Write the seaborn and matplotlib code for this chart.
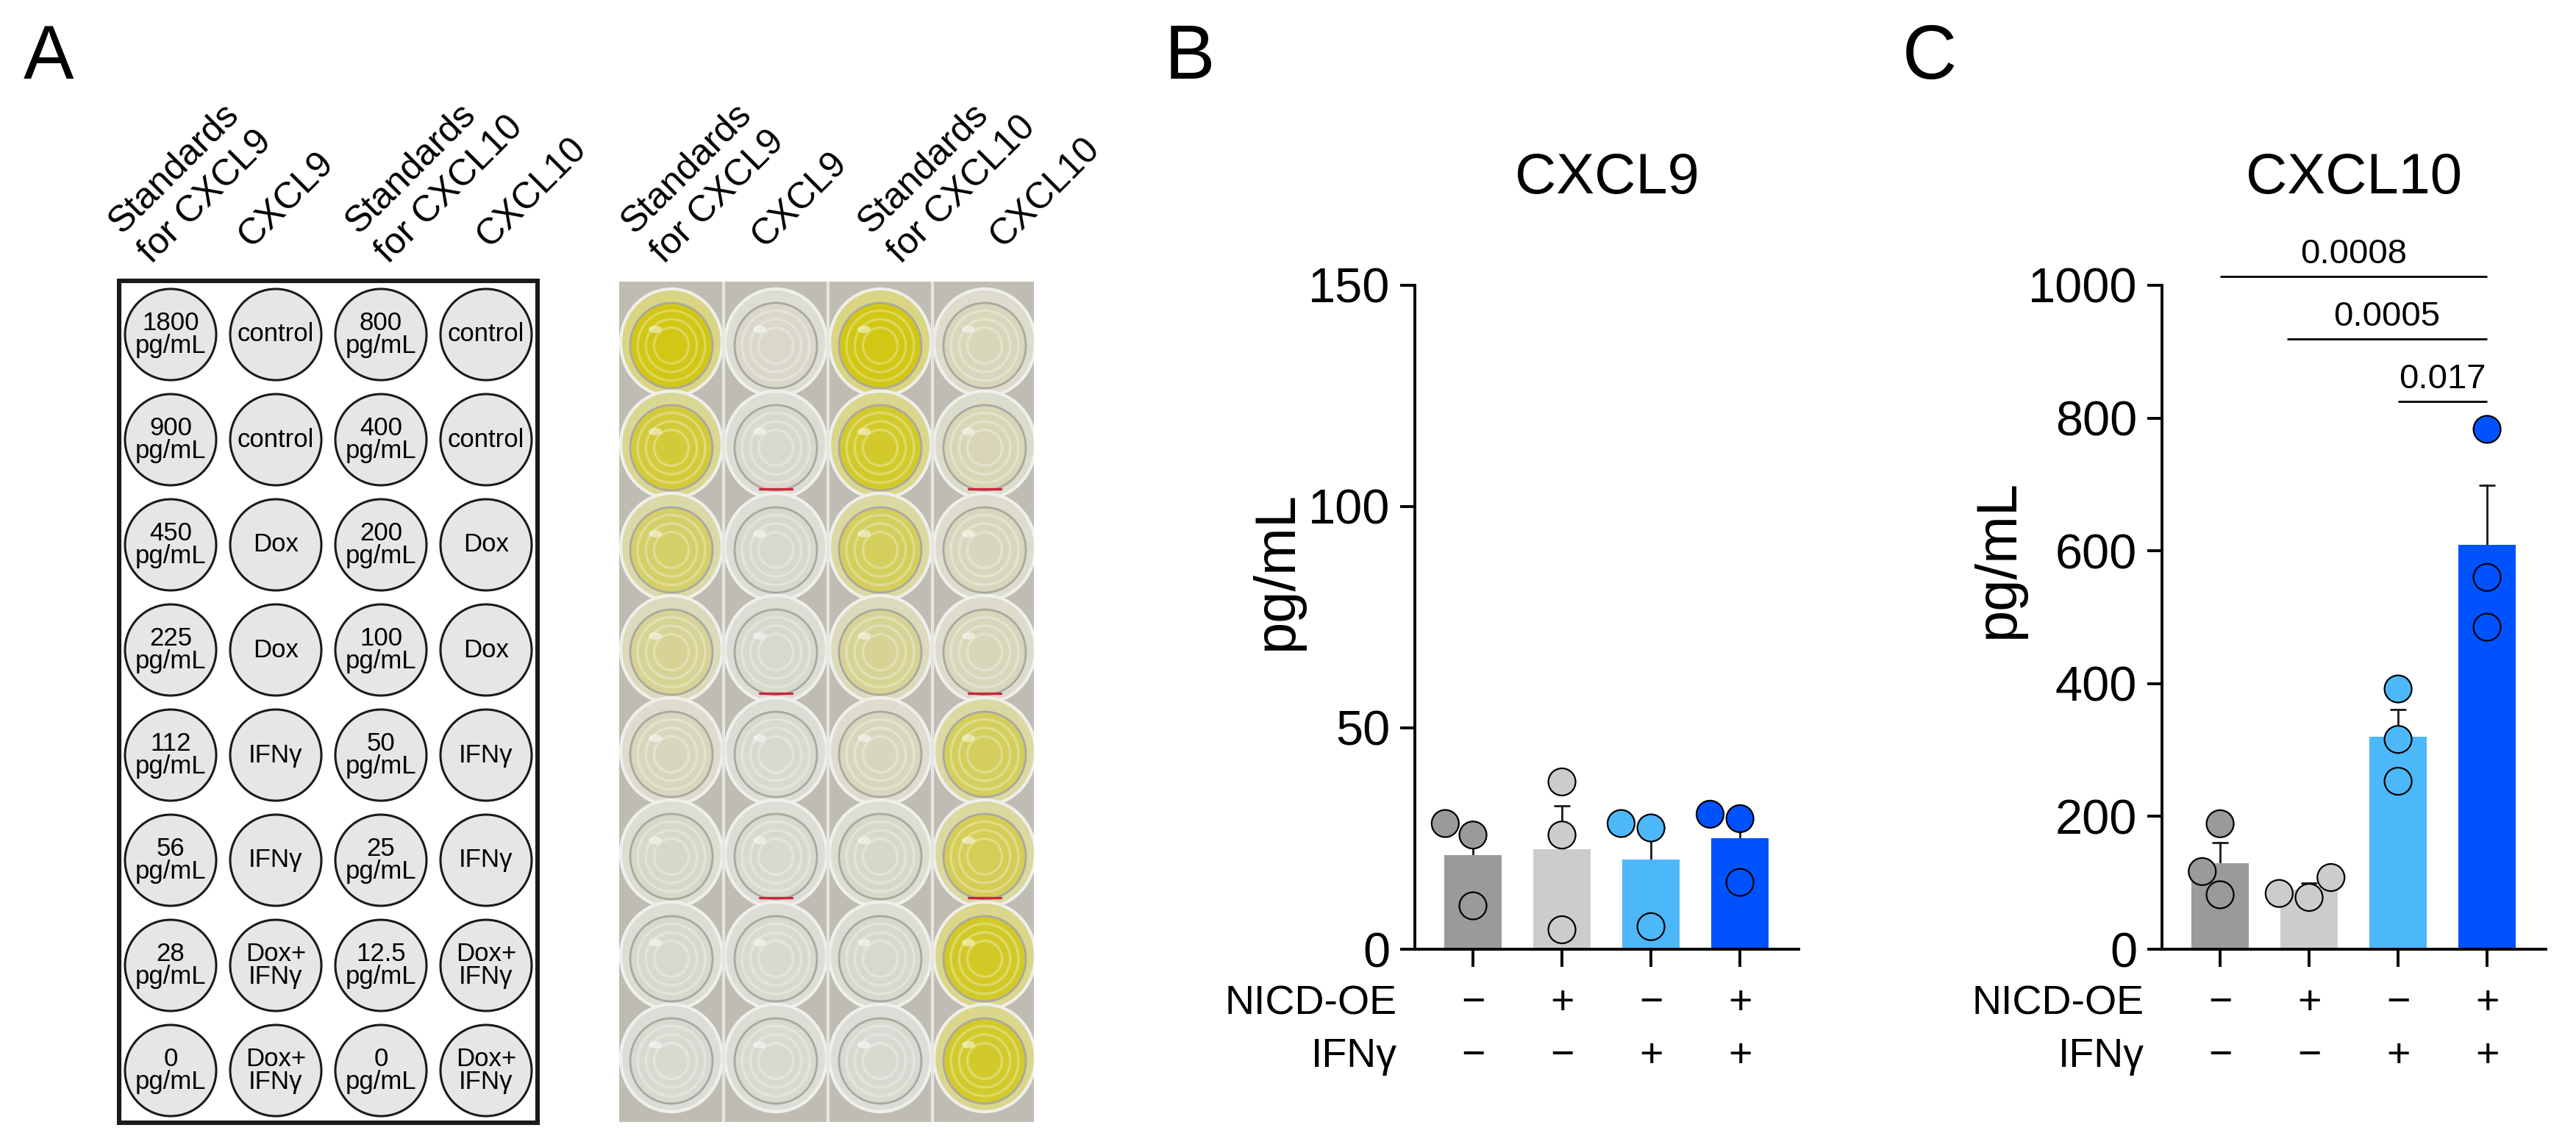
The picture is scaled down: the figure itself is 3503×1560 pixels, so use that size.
import numpy as np
import pandas as pd
import seaborn as sns
import matplotlib.pyplot as plt
from matplotlib.patches import Circle, Ellipse, Rectangle

W, H, DPI = 3503, 1560, 200

# ---- values ----
group_names = ["ctrl", "NICD", "IFNg", "NICD+IFNg"]
nicd_oe_signs = ["\u2212", "+", "\u2212", "+"]
ifng_signs = ["\u2212", "\u2212", "+", "+"]
bar_colors = ["#9a9a9a", "#cccccc", "#4cb8fa", "#0052ff"]

cxcl9_pg_ml = [[28.4, 25.8, 9.8], [37.8, 25.8, 4.4], [28.4, 27.4, 5.1], [30.5, 29.5, 15.1]]
cxcl10_pg_ml = [[189, 117, 82], [108, 78, 84], [392, 316, 253], [783, 560, 485]]
cxcl10_p_values = ["0.0008", "0.0005", "0.017"]
cxcl10_p_spans = [(0, 3), (0.75, 3), (2, 3)]

plate_headers = ["Standards\nfor CXCL9", "CXCL9", "Standards\nfor CXCL10", "CXCL10"]
std_cxcl9 = ["1800", "900", "450", "225", "112", "56", "28", "0"]
std_cxcl10 = ["800", "400", "200", "100", "50", "25", "12.5", "0"]
sample_wells = ["control", "control", "Dox", "Dox", "IFN\u03b3", "IFN\u03b3", "Dox+\nIFN\u03b3", "Dox+\nIFN\u03b3"]

# how yellow each well looks in the photo (0 clear, 1 strongest)
yellow_std9 = [1.0, 0.8, 0.55, 0.32, 0.1, 0.05, 0.02, 0.0]
yellow_cxcl9 = [0.03, 0.02, 0.02, 0.02, 0.01, 0.01, 0.01, 0.01]
yellow_std10 = [1.0, 0.88, 0.62, 0.32, 0.1, 0.05, 0.02, 0.0]
yellow_cxcl10 = [0.12, 0.14, 0.1, 0.12, 0.62, 0.65, 0.9, 0.88]

sns.set_theme(style="ticks", rc={"axes.edgecolor": "black", "xtick.color": "black",
                                 "ytick.color": "black", "text.color": "black",
                                 "axes.labelcolor": "black"})
plt.rcParams["font.family"] = ["Liberation Sans", "DejaVu Sans"]


def px_axes(fig, x0, y0, x1, y1):
    return fig.add_axes([x0 / W, 1 - y1 / H, (x1 - x0) / W, (y1 - y0) / H])


def fig_text(fig, x, y, s, **kw):
    return fig.text(x / W, 1 - y / H, s, **kw)


def draw_schematic(fig):
    ax = px_axes(fig, 162, 382, 731, 1527)
    ax.set_xlim(162, 731)
    ax.set_ylim(1527, 382)
    ax.axis("off")
    ax.add_patch(Rectangle((162, 382), 569, 1145, fill=False, lw=2.2, ec="#1a1a1a", clip_on=False))
    columns = [[f"{v}\npg/mL" for v in std_cxcl9], sample_wells,
               [f"{v}\npg/mL" for v in std_cxcl10], sample_wells]
    for j, col in enumerate(columns):
        for i, label in enumerate(col):
            cx, cy = 232 + 143 * j, 455 + 143 * i
            ax.add_patch(Circle((cx, cy), 62, fc="#e6e6e8", ec="#1a1a1a", lw=1.1))
            ax.text(cx, cy, label, ha="center", va="center", fontsize=12.5, linespacing=0.95)


def draw_plate_photo(fig):
    ax = px_axes(fig, 842, 383, 1406, 1526)
    ax.set_xlim(842, 1406)
    ax.set_ylim(1526, 383)
    ax.axis("off")
    ax.add_patch(Rectangle((842, 383), 564, 1143, fc="#bfbdb3", ec="none"))
    clear = np.array([0.85, 0.85, 0.82])
    yellow = np.array([0.82, 0.78, 0.08])
    rim_light = np.array([0.88, 0.88, 0.86])
    for xb in (984, 1126, 1268):
        ax.plot([xb, xb], [383, 1526], color="#e6e5e0", lw=1.5)
    for j, col in enumerate([yellow_std9, yellow_cxcl9, yellow_std10, yellow_cxcl10]):
        cx = 913 + 142 * j
        for i, t in enumerate(col):
            cy = 466 + 139 * i
            liquid = clear * (1 - t) + yellow * t
            rim = liquid * 0.45 + rim_light * 0.55
            ax.add_patch(Ellipse((cx, cy), 138, 146, fc=rim, ec="#efefeb", lw=1.5))
            ax.add_patch(Ellipse((cx, cy + 4), 112, 116, fc=liquid, ec="#a9a8a0", lw=1.0))
            for k in (0.82, 0.62, 0.42):
                ax.add_patch(Ellipse((cx, cy + 4), 112 * k, 116 * k, fc="none", ec="white",
                                     alpha=0.3, lw=1.2))
            ax.add_patch(Ellipse((cx - 22, cy - 18), 18, 10, fc="white", alpha=0.5, ec="none"))
            if j in (1, 3) and i in (1, 3, 5):
                ax.plot([cx - 22, cx + 22], [cy + 60, cy + 60], color="#c8283c", lw=1.2)


def draw_bar_panel(fig, x0, values, ymax, ystep, title, label_xy):
    ax = px_axes(fig, x0, 388, x0 + 522, 1291)
    df = pd.DataFrame({"group": np.repeat(group_names, [len(v) for v in values]),
                       "pg_ml": np.concatenate(values)})
    sns.barplot(data=df, x="group", y="pg_ml", hue="group", order=group_names,
                hue_order=group_names, palette=bar_colors, saturation=1, width=0.65,
                errorbar="se", capsize=0.17, linewidth=0,
                err_kws={"linewidth": 1.0, "color": "#1a1a1a"},
                legend=False, zorder=2, ax=ax)
    # error bars sit behind the bars so only the upper half shows
    for ln in ax.lines:
        ln.set_zorder(1.5)
    sns.swarmplot(data=df, x="group", y="pg_ml", hue="group", order=group_names,
                  hue_order=group_names, palette=bar_colors, size=13.3,
                  edgecolor="black", linewidth=0.8, legend=False, zorder=3, ax=ax)
    ax.set_xlim(-0.653, 3.66)
    ax.set_ylim(0, ymax)
    ax.set_yticks(np.arange(0, ymax + 1, ystep))
    ax.set_xticks(range(len(group_names)))
    sns.despine(ax=ax)
    for side in ("left", "bottom"):
        ax.spines[side].set_linewidth(1.4)
    ax.tick_params(axis="y", length=7.2, width=1.4, labelsize=24, pad=5)
    ax.tick_params(axis="x", length=8.6, width=1.4, labelbottom=False)
    ax.set_xlabel("")
    ax.set_ylabel("pg/mL", fontsize=28, va="center")
    ax.yaxis.set_label_coords(*label_xy)
    ax.text(0.5, 1.1606, title, transform=ax.transAxes, ha="center", va="center", fontsize=28)

    trans = ax.get_xaxis_transform()
    for i, (a, b) in enumerate(zip(nicd_oe_signs, ifng_signs)):
        ax.text(i, -0.082, a, transform=trans, ha="center", va="center", fontsize=20)
        ax.text(i, -0.162, b, transform=trans, ha="center", va="center", fontsize=20)
    ax.text(-0.047, -0.082, "NICD-OE", transform=ax.transAxes, ha="right", va="center", fontsize=20)
    ax.text(-0.047, -0.162, "IFN\u03b3", transform=ax.transAxes, ha="right", va="center", fontsize=20)
    return ax


fig = plt.figure(figsize=(W / DPI, H / DPI), dpi=DPI)

draw_schematic(fig)
draw_plate_photo(fig)

header_offsets = [0, 144, 322, 468]
for base in (198, 895):
    for off, label in zip(header_offsets, plate_headers):
        y = 352 if "\n" in label else 338
        fig_text(fig, base + off, y, label, rotation=45, rotation_mode="anchor",
                 ha="left", va="baseline", fontsize=18, multialignment="left",
                 linespacing=1.3)

draw_bar_panel(fig, 1924, cxcl9_pg_ml, 150, 50, "CXCL9", (-0.360, 0.570))
ax_c = draw_bar_panel(fig, 2940, cxcl10_pg_ml, 1000, 200, "CXCL10", (-0.426, 0.588))

# significance lines for CXCL10
top_level, level_step = 1013, 94
for k, (label, (i, j)) in enumerate(zip(cxcl10_p_values, cxcl10_p_spans)):
    yl = top_level - level_step * k
    ax_c.plot([i, j], [yl, yl], color="black", lw=1.0, clip_on=False, solid_capstyle="butt")
    ax_c.text((i + j) / 2, yl + 33, label, ha="center", va="center", fontsize=17, clip_on=False)

letter_font = ["Liberation Sans Narrow", "Liberation Sans"]
for x, letter in ((32, "A"), (1584, "B"), (2587, "C")):
    fig_text(fig, x, 107, letter, fontsize=37, family=letter_font, ha="left", va="baseline")

fig.savefig("out.png", dpi=DPI, facecolor="white")
